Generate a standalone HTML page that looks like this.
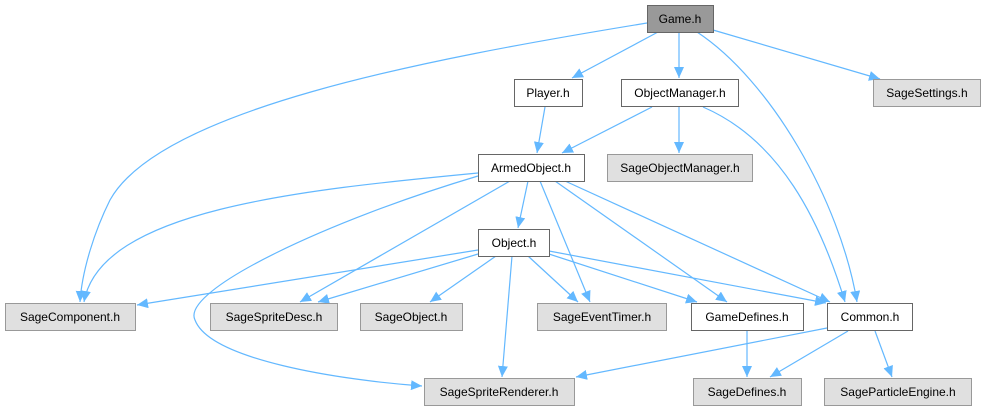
<!DOCTYPE html>
<html><head><meta charset="utf-8"><style>
html,body{margin:0;padding:0;background:#fff;}
svg{display:block;}
text{font-family:"Liberation Sans",sans-serif;font-size:12px;fill:#000;text-anchor:middle;}
</style></head><body>
<svg width="1003" height="411" viewBox="0 0 1003 411" xmlns="http://www.w3.org/2000/svg">
<defs><marker id="a" markerUnits="userSpaceOnUse" markerWidth="12" markerHeight="10" refX="11" refY="5" orient="auto"><path d="M0,0 L11,5 L0,10 z" fill="#63b8ff"/></marker></defs>
<g fill="none" stroke="#63b8ff" stroke-width="1.2" marker-end="url(#a)">
<path d="M647,23 C420,60 160,110 110,200 C95,230 82,270 80,302"/>
<path d="M478,173 C300,190 100,210 84,302"/>
<path d="M658,32 L572,78"/>
<path d="M679,32 L679,78"/>
<path d="M697,32 C770,80 840,200 857,302"/>
<path d="M713,30 L880,79"/>
<path d="M545,107 L537,153"/>
<path d="M652,107 L562,153"/>
<path d="M679,107 L679,153"/>
<path d="M703,107 C780,140 820,220 845,302"/>
<path d="M528,181 L518,228"/>
<path d="M510,181 L300,302"/>
<path d="M540,181 L590,302"/>
<path d="M555,181 L727,302"/>
<path d="M565,181 L830,302"/>
<path d="M478,176 C330,220 180,290 195,320 C210,360 340,380 422,386"/>
<path d="M478,250 L137,305"/>
<path d="M478,254 L318,302"/>
<path d="M496,256 L430,302"/>
<path d="M528,256 L578,302"/>
<path d="M549,254 L697,302"/>
<path d="M549,251 L826,303"/>
<path d="M512,256 L502,377"/>
<path d="M747,331 L747,377"/>
<path d="M827,328 L576,377"/>
<path d="M848,331 L770,377"/>
<path d="M875,331 L892,377"/>
</g>
<g stroke-width="1">
<rect x="647.5" y="5.5" width="66" height="27" fill="#999" stroke="#666"/>
<rect x="514.5" y="79.5" width="68" height="27" fill="#fff" stroke="#666"/>
<rect x="621.5" y="79.5" width="117" height="27" fill="#fff" stroke="#666"/>
<rect x="873.5" y="79.5" width="107" height="27" fill="#e0e0e0" stroke="#999"/>
<rect x="478.5" y="154.5" width="106" height="27" fill="#fff" stroke="#666"/>
<rect x="607.5" y="154.5" width="145" height="27" fill="#e0e0e0" stroke="#999"/>
<rect x="478.5" y="229.5" width="71" height="27" fill="#fff" stroke="#666"/>
<rect x="5.5" y="303.5" width="130" height="27" fill="#e0e0e0" stroke="#999"/>
<rect x="210.5" y="303.5" width="127" height="27" fill="#e0e0e0" stroke="#999"/>
<rect x="360.5" y="303.5" width="102" height="27" fill="#e0e0e0" stroke="#999"/>
<rect x="537.5" y="303.5" width="129" height="27" fill="#e0e0e0" stroke="#999"/>
<rect x="691.5" y="303.5" width="112" height="27" fill="#fff" stroke="#666"/>
<rect x="827.5" y="303.5" width="85" height="27" fill="#fff" stroke="#666"/>
<rect x="424.5" y="378.5" width="150" height="27" fill="#e0e0e0" stroke="#999"/>
<rect x="693.5" y="378.5" width="108" height="27" fill="#e0e0e0" stroke="#999"/>
<rect x="824.5" y="378.5" width="147" height="27" fill="#e0e0e0" stroke="#999"/>
</g>
<text x="680" y="23">Game.h</text>
<text x="548" y="97">Player.h</text>
<text x="680" y="97">ObjectManager.h</text>
<text x="927" y="97">SageSettings.h</text>
<text x="531" y="172">ArmedObject.h</text>
<text x="680" y="172">SageObjectManager.h</text>
<text x="514" y="247">Object.h</text>
<text x="70" y="321">SageComponent.h</text>
<text x="274" y="321">SageSpriteDesc.h</text>
<text x="411" y="321">SageObject.h</text>
<text x="602" y="321">SageEventTimer.h</text>
<text x="747" y="321">GameDefines.h</text>
<text x="870" y="321">Common.h</text>
<text x="499" y="396">SageSpriteRenderer.h</text>
<text x="747" y="396">SageDefines.h</text>
<text x="898" y="396">SageParticleEngine.h</text>
</svg>
</body></html>
